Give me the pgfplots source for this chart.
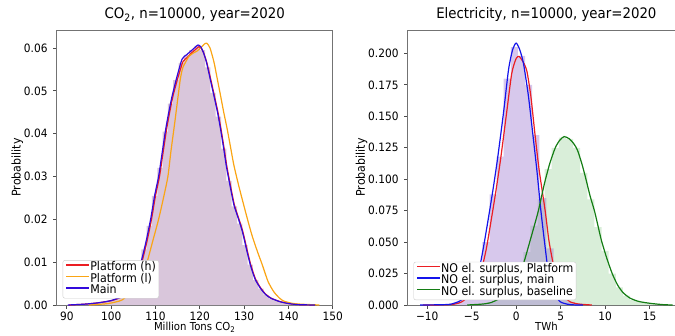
\documentclass[border=0pt]{standalone}
\usepackage{fontspec}
\setmainfont{DejaVu Sans}[FakeStretch=0.92]
\usepackage{pgfplots}
\pgfplotsset{compat=1.18}
\definecolor{mauve}{RGB}{217,198,219}
\definecolor{purphist}{RGB}{150,110,205}
\definecolor{greenhist}{RGB}{130,200,130}
\definecolor{cred}{RGB}{235,30,35}
\definecolor{corange}{RGB}{250,165,20}
\definecolor{cblueL}{RGB}{50,10,220}
\definecolor{cblue}{RGB}{20,20,235}
\definecolor{cgreen}{RGB}{20,125,20}
\begin{document}
\begin{tikzpicture}
\pgfplotsset{
  myaxis/.style={
    scale only axis, height=275pt,
    scaled ticks=false,
    axis line style={black!55, line width=0.8pt},
    tick align=outside, tick pos=left, major tick length=3.5pt,
    tick style={black!70, line width=0.8pt},
    tick label style={font=\fontsize{11.5}{13}\selectfont},
    xticklabel style={inner sep=0pt, anchor=north, yshift=-3pt},
    yticklabel style={inner sep=0pt, anchor=east, xshift=-5.5pt},
    title style={font=\fontsize{14.5}{17}\selectfont, at={(axis description cs:0.5,1.0182)}, anchor=base, inner sep=0pt},
    x label style={font=\fontsize{11}{13}\selectfont, at={(axis description cs:0.5,-0.093)}, anchor=base, inner sep=0pt},
    y label style={font=\fontsize{12}{14}\selectfont, anchor=base, inner sep=0pt},
    legend cell align=left,
    legend style={font=\fontsize{12}{12}\selectfont, draw=black!20, fill=white, rounded corners=2pt, inner xsep=2.5pt, inner ysep=1.5pt, row sep=0pt, nodes={inner sep=0.3pt, text height=8.5pt, text depth=2.5pt, anchor=west}},
    legend image code/.code={\draw[#1, line width=1.6pt] (0pt,3pt) -- (23pt,3pt);},
  }
}
% ---------------- Left: CO2 ----------------
\begin{axis}[myaxis, at={(56.7pt,30pt)}, anchor=south west, width=276pt,
  xmin=87.7, xmax=150, ymin=0, ymax=0.0642,
  xtick={90,100,110,120,130,140,150},
  xticklabels={90,100,110,120,130,140,150},
  ytick={0,0.01,0.02,0.03,0.04,0.05,0.06},
  yticklabels={0.00,0.01,0.02,0.03,0.04,0.05,0.06},
  title={CO\textsubscript{2}, n=10000, year=2020},
  xlabel={Million Tons CO\textsubscript{2}},
  ylabel={Probability},
  y label style={at={(axis description cs:-0.1304,0.5)}},
  legend style={at={(axis description cs:0.0217,0.024)}, anchor=south west},
]
\addplot[ybar interval, fill=mauve, draw=none, forget plot] coordinates {
(90.0,0)(91.2,0.0001)(92.4,0.0001)(93.6,0.0002)(94.8,0.0003)(96.0,0.0005)(97.2,0.0007)(98.4,0.0009)(99.6,0.0011)(100.8,0.0016)(102.0,0.0022)(103.2,0.0030)(104.4,0.0048)(105.6,0.0082)(106.8,0.0130)(108.0,0.0185)(109.2,0.0255)(110.4,0.0320)(111.6,0.0405)(112.8,0.0470)(114.0,0.0525)(115.2,0.0565)(116.4,0.0584)(117.6,0.0595)(118.8,0.0605)(120.0,0.0595)(121.2,0.0555)(122.4,0.0495)(123.6,0.0440)(124.8,0.0365)(126.0,0.0290)(127.2,0.0230)(128.4,0.0190)(129.6,0.0140)(130.8,0.0094)(132.0,0.0058)(133.2,0.0038)(134.4,0.0023)(135.6,0.0015)(136.8,0.0010)(138.0,0.0006)(139.2,0.0004)(140.4,0.0002)(141.6,0.0001)(142.8,0.0001)(144.0,0)(145.2,0)};
\addplot[color=cred, line width=1.2pt, smooth, tension=0.4] coordinates {
(90.5,0)(94,0.0002)(97,0.0005)(100,0.0010)(102.2,0.0018)(104.6,0.0035)(105.7,0.006)(106.8,0.0095)(108.0,0.0145)(109.1,0.02)(110.0,0.0255)(110.9,0.03)(111.7,0.0355)(112.5,0.041)(113.2,0.045)(114.0,0.049)(115.1,0.0532)(116.2,0.0568)(117.2,0.0578)(118.1,0.0588)(119.2,0.0598)(119.8,0.0603)(120.3,0.0600)(120.9,0.0588)(121.6,0.0565)(122.4,0.053)(123.3,0.0488)(124.1,0.045)(124.8,0.041)(125.5,0.0365)(126.1,0.0324)(126.9,0.028)(127.8,0.0234)(128.7,0.0205)(129.7,0.0172)(130.6,0.0132)(131.5,0.0094)(132.6,0.006)(133.8,0.0039)(134.9,0.0025)(136.1,0.0016)(138.1,0.0008)(139.8,0.0004)(142,0.0001)(146,0)};
\addlegendentry{Platform (h)}
\addplot[color=corange, line width=1.2pt, smooth, tension=0.4] coordinates {
(95,0)(99,0.0003)(101,0.0007)(102.5,0.0012)(104.5,0.0030)(106.2,0.0050)(107.2,0.0075)(108.1,0.0100)(109.4,0.0150)(110.7,0.0200)(111.8,0.0250)(112.8,0.0300)(113.5,0.0360)(114.4,0.0430)(115.6,0.0527)(116.2,0.0555)(116.8,0.0567)(117.5,0.0580)(118.5,0.0588)(119.4,0.0593)(120.3,0.0601)(121.0,0.0609)(121.6,0.0611)(122.3,0.0600)(123.2,0.0567)(124.0,0.0525)(124.7,0.0488)(125.4,0.0450)(126.2,0.0410)(127.0,0.0365)(127.7,0.0326)(128.8,0.0278)(129.9,0.0234)(130.9,0.0195)(131.8,0.0162)(133.0,0.0125)(134.1,0.0094)(135.4,0.0055)(136.7,0.0031)(138.0,0.0016)(139.0,0.0009)(140.8,0.0004)(142.7,0.0002)(147.0,0)};
\addlegendentry{Platform (l)}
\addplot[color=cblueL, line width=1.2pt, smooth, tension=0.4] coordinates {
(90.2,0)(94,0.0002)(97,0.0005)(99.8,0.0010)(102,0.0018)(104.4,0.0035)(105.5,0.0060)(106.6,0.0095)(107.8,0.0145)(108.9,0.0200)(109.8,0.0255)(110.7,0.0300)(111.5,0.0355)(112.3,0.0410)(113.0,0.0450)(113.8,0.0490)(114.9,0.0535)(116.0,0.0574)(117.0,0.0584)(117.9,0.0592)(119.0,0.0602)(119.6,0.0607)(120.2,0.0603)(120.8,0.0590)(121.5,0.0567)(122.3,0.0530)(123.2,0.0488)(124.0,0.0450)(124.7,0.0410)(125.4,0.0365)(126.0,0.0324)(126.8,0.0280)(127.7,0.0234)(128.6,0.0205)(129.6,0.0172)(130.5,0.0132)(131.4,0.0094)(132.5,0.0060)(133.7,0.0039)(134.8,0.0025)(136.0,0.0016)(138.0,0.0008)(139.7,0.0004)(142,0.0001)(146,0)};
\addlegendentry{Main}
\end{axis}
% ---------------- Right: Electricity ----------------
\begin{axis}[myaxis, at={(407.7pt,30pt)}, anchor=south west, width=277.4pt,
  xmin=-12.2, xmax=19.0, ymin=0, ymax=0.2186,
  xtick={-10,-5,0,5,10,15},
  xticklabels={−10,−5,0,5,10,15},
  ytick={0,0.025,0.05,0.075,0.1,0.125,0.15,0.175,0.2},
  yticklabels={0.000,0.025,0.050,0.075,0.100,0.125,0.150,0.175,0.200},
  title={Electricity, n=10000, year=2020},
  xlabel={TWh},
  ylabel={Probability},
  y label style={at={(axis description cs:-0.154,0.5)}},
  legend style={at={(axis description cs:0.021,0.018)}, anchor=south west},
]
\addplot[ybar interval, fill=greenhist, fill opacity=0.3, draw=none, forget plot] coordinates {
(-5.6,0)(-4.8,0.0005)(-4.0,0.0009)(-3.2,0.002)(-2.4,0.0045)(-1.6,0.008)(-0.8,0.013)(0.0,0.024)(0.8,0.042)(1.6,0.063)(2.4,0.084)(3.2,0.108)(4.0,0.125)(4.8,0.133)(5.6,0.132)(6.4,0.125)(7.2,0.105)(8.0,0.084)(8.8,0.062)(9.6,0.043)(10.4,0.025)(11.2,0.014)(12.0,0.0075)(12.8,0.004)(13.6,0.0024)(14.4,0.0014)(15.2,0.0008)(16.0,0.0003)(16.8,0.0001)(17.6,0)};
\addplot[ybar interval, fill=purphist, fill opacity=0.38, draw=none, forget plot] coordinates {
(-11.0,0)(-10.2,0.0001)(-9.4,0.0001)(-8.6,0.0003)(-7.8,0.0006)(-7.0,0.0024)(-6.2,0.0065)(-5.4,0.013)(-4.6,0.026)(-3.8,0.050)(-3.0,0.088)(-2.2,0.118)(-1.4,0.180)(-0.6,0.205)(0.2,0.198)(1.0,0.175)(1.8,0.135)(2.6,0.085)(3.4,0.045)(4.2,0.020)(5.0,0.0075)(5.8,0.0025)(6.6,0.0008)(7.4,0.0003)(8.2,0.0001)(9.0,0)};
\addplot[color=cred, line width=1.2pt, smooth, tension=0.4] coordinates {
(-10.5,0)(-8.5,0.0001)(-7.0,0.0006)(-6.1,0.0026)(-5.2,0.008)(-4.5,0.016)(-3.9,0.028)(-3.35,0.045)(-2.75,0.070)(-2.25,0.092)(-1.75,0.116)(-1.08,0.1525)(-0.5,0.184)(0,0.196)(0.34,0.1975)(0.8,0.193)(1.2,0.186)(1.65,0.166)(2.14,0.134)(2.59,0.107)(3.26,0.075)(3.71,0.050)(4.39,0.025)(5.0,0.012)(5.5,0.006)(6.07,0.0025)(7.0,0.0008)(8.5,0)};
\addlegendentry{NO el. surplus, Platform}
\addplot[color=cblue, line width=1.2pt, smooth, tension=0.4] coordinates {
(-10.8,0)(-9.5,0.0001)(-8.5,0.0002)(-7.4,0.0006)(-6.5,0.0026)(-5.8,0.006)(-5.2,0.011)(-4.7,0.018)(-4.2,0.027)(-3.7,0.045)(-3.1,0.070)(-2.6,0.092)(-2.1,0.116)(-1.43,0.1525)(-0.86,0.187)(-0.4,0.203)(0,0.2082)(0.4,0.203)(0.82,0.192)(1.38,0.166)(1.95,0.131)(2.33,0.107)(2.78,0.075)(3.19,0.050)(3.64,0.025)(4.2,0.010)(4.95,0.0026)(5.8,0.0006)(6.5,0.0001)(7.5,0)};
\addlegendentry{NO el. surplus, main}
\addplot[color=cgreen, line width=1.2pt, smooth, tension=0.4] coordinates {
(-5.5,0)(-4.5,0.0004)(-3.7,0.0008)(-2.8,0.002)(-1.8,0.0053)(-1.0,0.009)(-0.3,0.014)(0.45,0.025)(1.0,0.037)(1.6,0.052)(2.0,0.062)(2.5,0.075)(3.0,0.091)(3.3,0.100)(3.8,0.113)(4.4,0.125)(4.9,0.131)(5.4,0.1339)(6.0,0.132)(6.5,0.128)(6.9,0.123)(7.4,0.112)(7.85,0.100)(8.3,0.087)(8.8,0.075)(9.2,0.063)(9.6,0.051)(10.2,0.037)(10.8,0.025)(11.4,0.016)(12.0,0.010)(12.8,0.0055)(13.8,0.0028)(15.1,0.0013)(16.5,0.0003)(17.6,0)};
\addlegendentry{NO el. surplus, baseline}
\end{axis}
\pgfresetboundingbox
\useasboundingbox (0,0) rectangle (675pt,335pt);
\end{tikzpicture}
\end{document}
